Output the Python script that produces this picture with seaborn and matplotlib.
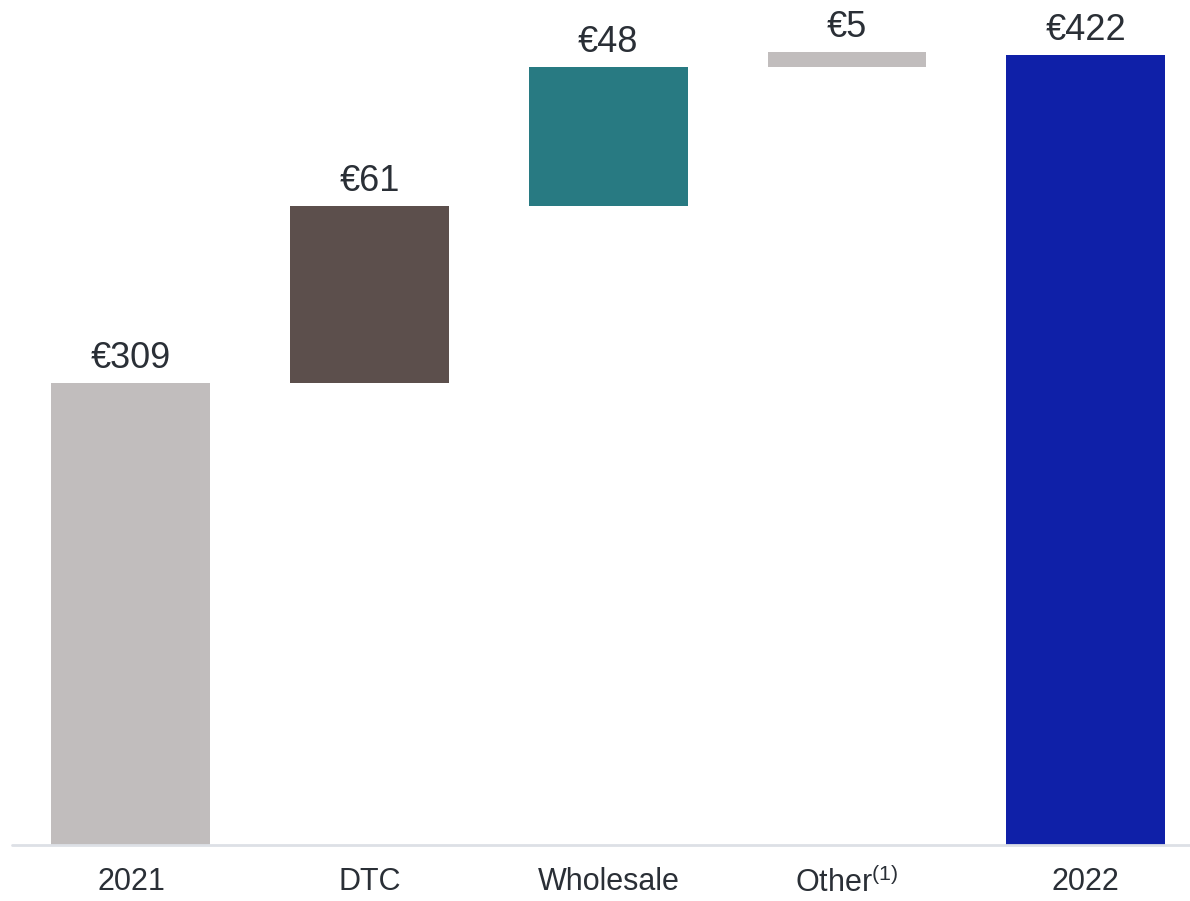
import matplotlib
matplotlib.use("Agg")
import matplotlib.pyplot as plt
import seaborn as sns
import numpy as np
import pandas as pd

categories = ["2021", "DTC", "Wholesale", "Other$^{\\mathregular{(1)}}$", "2022"]
values = [309, 61, 48, 5, 422]
labels = ["€309", "€61", "€48", "€5", "€422"]
is_total = [True, False, False, False, True]
colors = ["#c1bdbd", "#5c4f4c", "#287a82", "#c1bdbd", "#0f20a8"]

sns.set_theme(style="white")
plt.rcParams["font.family"] = ["Liberation Sans", "DejaVu Sans"]
plt.rcParams["mathtext.fontset"] = "custom"
plt.rcParams["mathtext.rm"] = "Liberation Sans"

AXIS_BASE = 150

# compute bottoms and heights
bottoms, heights = [], []
running = 0
for v, t in zip(values, is_total):
    if t:
        bottoms.append(AXIS_BASE)
        heights.append(v - AXIS_BASE)
        running = v
    else:
        bottoms.append(running)
        heights.append(v)
        running += v

df = pd.DataFrame({"cat": categories, "height": heights, "bottom": bottoms})

fig = plt.figure(figsize=(11.9, 9.01), dpi=100)
ax = fig.add_axes([11.6 / 1190, 56 / 901, 1 - 11.6 / 1190, 845 / 901])

sns.barplot(data=df, x="cat", y="height", hue="cat", palette=colors,
            legend=False, ax=ax, width=0.666,
            saturation=1, edgecolor="none")

# floating waterfall bars: shift each bar to its running bottom
for patch, b in zip(ax.patches, bottoms):
    patch.set_y(b)

ax.set_xlim(-0.5, 4.437)
ax.set_ylim(AXIS_BASE, 440.9)
ax.axhline(AXIS_BASE, color="#dde0e6", lw=2, zorder=5, clip_on=False)

for i, (b, h, lab) in enumerate(zip(bottoms, heights, labels)):
    ax.annotate(lab, (i, b + h), xytext=(0, 5), textcoords="offset points",
                ha="center", va="bottom", fontsize=26, color="#2a2f36",
                annotation_clip=False)

for s in ax.spines.values():
    s.set_visible(False)
ax.set_yticks([])
ax.set_xlabel("")
ax.set_ylabel("")
ax.tick_params(axis="x", length=0, pad=16, labelsize=22, labelcolor="#2a2f36")

fig.savefig("out.png", dpi=100)
